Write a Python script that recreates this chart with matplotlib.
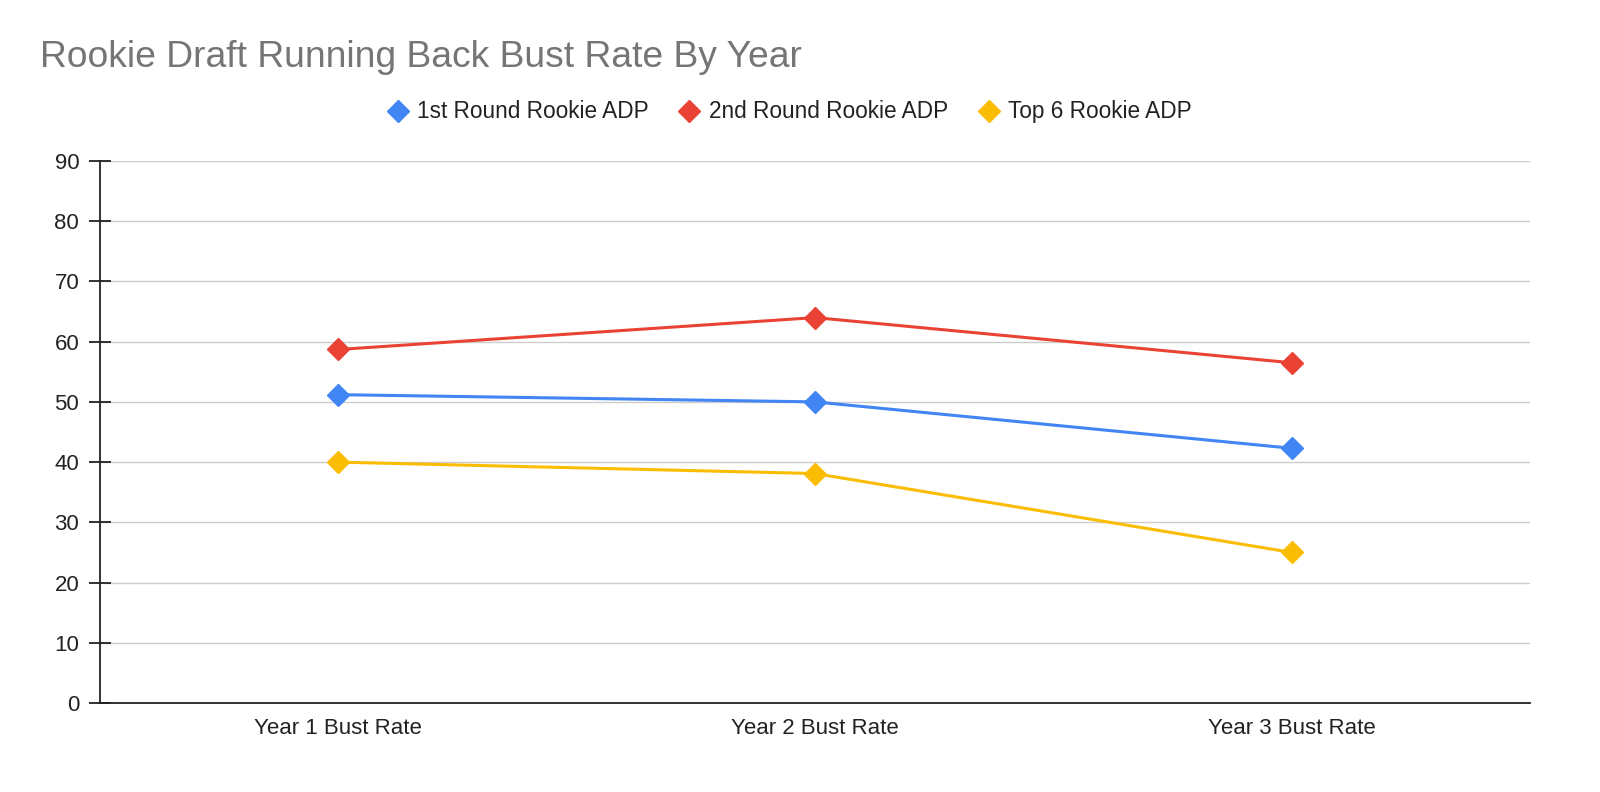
import matplotlib.pyplot as plt
from matplotlib.lines import Line2D

plt.rcParams['font.family'] = ['Liberation Sans', 'DejaVu Sans']

categories = ['Year 1 Bust Rate', 'Year 2 Bust Rate', 'Year 3 Bust Rate']
first_round = [51.2, 50.0, 42.3]
second_round = [58.7, 64.0, 56.5]
top_six = [40.0, 38.1, 25.0]

series = [
    ('1st Round Rookie ADP', first_round, '#4285F4'),
    ('2nd Round Rookie ADP', second_round, '#EA4335'),
    ('Top 6 Rookie ADP', top_six, '#FBBC04'),
]

fig = plt.figure(figsize=(16, 7.92), dpi=100)
ax = fig.add_axes([0.0625, 0.1124, 0.89375, 0.6843])

x = range(len(categories))
for name, vals, color in series:
    ax.plot(x, vals, color=color, lw=2.2, marker='D', ms=11.5, label=name, zorder=3)

ax.set_xlim(-0.5, 2.5)
ax.set_ylim(0, 90)
ax.set_yticks(range(0, 91, 10))
ax.set_xticks(list(x))
ax.set_xticklabels(categories)
ax.grid(axis='y', color='#cccccc', lw=1)
ax.set_axisbelow(True)
for s in ['top', 'right']:
    ax.spines[s].set_visible(False)
ax.spines['left'].set_color('#222222')
ax.spines['bottom'].set_color('#222222')
ax.spines['left'].set_linewidth(1.3)
ax.spines['bottom'].set_linewidth(1.3)
ax.tick_params(axis='y', direction='inout', length=16, width=1.3, color='#222222',
               labelsize=16, labelcolor='#222222', pad=7)
ax.tick_params(axis='x', length=0, labelsize=16, labelcolor='#222222', pad=11)

fig.text(0.025, 0.927, 'Rookie Draft Running Back Bust Rate By Year',
         fontsize=26.8, color='#757575', va='center', ha='left')

handles = [Line2D([], [], ls='none', marker='D', ms=11.5, color=c) for _, _, c in series]
fig.legend(handles, [n for n, _, _ in series], loc='center', bbox_to_anchor=(0.4927, 0.8586),
           ncol=3, frameon=False, fontsize=16.3, handletextpad=0.3, columnspacing=1.25,
           handlelength=1.1, labelcolor='#222222')

fig.savefig('out.png', dpi=100)
